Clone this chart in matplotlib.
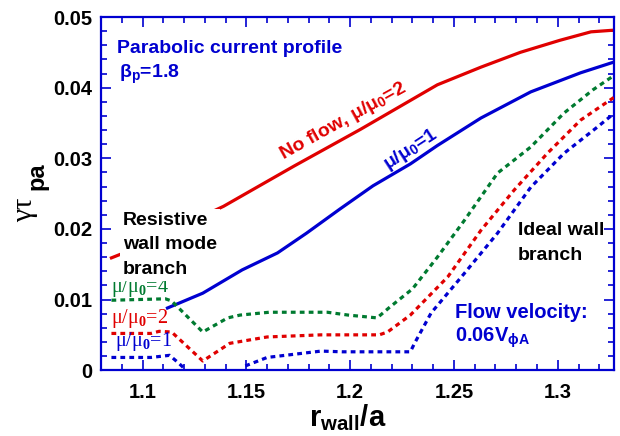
import numpy as np
import matplotlib
matplotlib.use("Agg")
import matplotlib.pyplot as plt
from matplotlib.ticker import MultipleLocator, FuncFormatter

# values
# solid curves: no flow
x_noflow_mu2 = [1.085, 1.091, 1.139, 1.173, 1.205, 1.242, 1.263, 1.282, 1.301, 1.316, 1.330]
y_noflow_mu2 = [0.0159, 0.0166, 0.0232, 0.0289, 0.0341, 0.0404, 0.0429, 0.0450, 0.0467, 0.0479, 0.0482]

x_noflow_mu1 = [1.112, 1.129, 1.148, 1.165, 1.179, 1.195, 1.211, 1.229, 1.242, 1.263, 1.287, 1.311, 1.330]
y_noflow_mu1 = [0.0088, 0.0109, 0.0142, 0.0166, 0.0194, 0.0228, 0.0261, 0.0292, 0.0318, 0.0357, 0.0394, 0.0421, 0.0439]

# dotted curves: flow velocity 0.06 V_phiA
x_flow_mu4 = [1.085, 1.111, 1.114, 1.129, 1.141, 1.147, 1.161, 1.189, 1.199, 1.213, 1.219, 1.230,
              1.242, 1.255, 1.271, 1.287, 1.303, 1.317, 1.329]
y_flow_mu4 = [0.0099, 0.0101, 0.0098, 0.0054, 0.0074, 0.0078, 0.0082, 0.0082, 0.0078, 0.0074, 0.0089, 0.0115,
              0.0160, 0.0212, 0.0279, 0.0316, 0.0364, 0.0397, 0.0421]

x_flow_mu2 = [1.085, 1.104, 1.108, 1.114, 1.129, 1.142, 1.160, 1.186, 1.214, 1.218, 1.229,
              1.247, 1.263, 1.279, 1.295, 1.311, 1.329]
y_flow_mu2 = [0.0052, 0.0052, 0.0055, 0.0054, 0.0013, 0.0038, 0.0047, 0.0050, 0.0050, 0.0054, 0.0078,
              0.0132, 0.0198, 0.0255, 0.0307, 0.0354, 0.0390]

x_flow_mu1 = [1.085, 1.104, 1.113, 1.117, 1.121, np.nan, 1.1495, 1.160, 1.186, 1.196, 1.229, 1.231,
              1.239, 1.255, 1.271, 1.287, 1.303, 1.319, 1.329]
y_flow_mu1 = [0.0018, 0.0018, 0.0021, 0.0011, 0.0, np.nan, 0.0006, 0.0018, 0.0027, 0.0026, 0.0026, 0.0038,
              0.0081, 0.0137, 0.0194, 0.0259, 0.0307, 0.0344, 0.0368]

red = '#e00000'
blue = '#0000d0'
green = '#007a30'

plt.rcParams['font.family'] = ['Liberation Sans', 'DejaVu Sans']
plt.rcParams['font.weight'] = 'bold'
plt.rcParams['mathtext.fontset'] = 'custom'
plt.rcParams['mathtext.rm'] = 'Liberation Serif'
plt.rcParams['mathtext.it'] = 'Liberation Serif:italic'
plt.rcParams['mathtext.bf'] = 'Liberation Sans:bold'
plt.rcParams['mathtext.sf'] = 'Liberation Sans'

fig = plt.figure(figsize=(6.2, 4.36), dpi=100)
ax = fig.add_axes([0.163, 0.151, 0.827, 0.810])

dots = (0, (1.5, 1.3))
ax.plot(x_noflow_mu2, y_noflow_mu2, color=red, lw=2.3, zorder=2)
ax.plot(x_noflow_mu1, y_noflow_mu1, color=blue, lw=2.3, zorder=2)
ax.plot(x_flow_mu4, y_flow_mu4, color=green, lw=2.3, ls=dots, dash_capstyle='butt', zorder=3)
ax.plot(x_flow_mu2, y_flow_mu2, color=red, lw=2.3, ls=dots, dash_capstyle='butt', zorder=3)
ax.plot(x_flow_mu1, y_flow_mu1, color=blue, lw=2.3, ls=dots, dash_capstyle='butt', zorder=3)

ax.set_xlim(1.08, 1.327)
ax.set_ylim(0, 0.05)
ax.xaxis.set_major_locator(MultipleLocator(0.05))
ax.xaxis.set_minor_locator(MultipleLocator(0.01))
ax.yaxis.set_major_locator(MultipleLocator(0.01))
ax.yaxis.set_minor_locator(MultipleLocator(0.002))
fmt = FuncFormatter(lambda v, p: '%g' % round(v, 4))
ax.xaxis.set_major_formatter(fmt)
ax.yaxis.set_major_formatter(fmt)

ax.tick_params(which='both', direction='in', top=True, right=True, color=blue, width=1.2,
               labelsize=14.5, labelcolor='black')
ax.tick_params(which='major', length=7)
ax.tick_params(which='minor', length=4)
ax.tick_params(axis='x', pad=9)
ax.tick_params(axis='y', pad=6)
for s in ax.spines.values():
    s.set_color(blue)
    s.set_linewidth(1.6)

# axis labels
fig.text(25 / 620, 1 - 210 / 436, 'γτ', family='Liberation Serif', weight='normal',
         fontsize=21, rotation=90, ha='center', va='center')
fig.text(37 / 620, 1 - 176 / 436, 'pa', fontsize=17, rotation=90, ha='center', va='center')
fig.text(348 / 620, 1 - 418 / 436, r'$\mathbf{r_{wall}/a}$', fontsize=21, ha='center', va='center')

# annotations
ax.text(0.031, 0.898, 'Parabolic current profile', color=blue, fontsize=14, transform=ax.transAxes,
        va='baseline')
ax.text(0.035, 0.827, r'$\mathbf{\beta_p}$=1.8', color=blue, fontsize=14, transform=ax.transAxes,
        va='baseline')
ax.text(0.043, 0.449, 'Resistive\nwall mode\nbranch', color='black', fontsize=14, linespacing=1.6,
        transform=ax.transAxes, va='top', zorder=5,
        bbox=dict(boxstyle='square,pad=0.15', fc='white', ec='none'))
ax.text(0.813, 0.419, 'Ideal wall\nbranch', color='black', fontsize=14, linespacing=1.6,
        transform=ax.transAxes, va='top')
ax.text(0.690, 0.147, 'Flow velocity:', color=blue, fontsize=14.5, transform=ax.transAxes, va='baseline')
ax.text(0.690, 0.079, r'0.06V$_\mathbf{\phi A}$', color=blue, fontsize=14.5, transform=ax.transAxes,
        va='baseline')

ax.text(0.020, 0.201, r'μ/μ$_0$=4', family='Liberation Serif', weight='normal', color=green,
        fontsize=14.5, transform=ax.transAxes, va='bottom')
ax.text(0.020, 0.113, r'μ/μ$_0$=2', family='Liberation Serif', weight='normal', color=red,
        fontsize=14.5, transform=ax.transAxes, va='bottom')
ax.text(0.027, 0.048, r'μ/μ$_0$=1', family='Liberation Serif', weight='normal', color=blue,
        fontsize=14.5, transform=ax.transAxes, va='bottom')

ax.text(0.472, 0.705, r'No flow, μ/μ$_\mathbf{0}$=2', color=red, fontsize=14, rotation=29,
        rotation_mode='anchor', ha='center', va='center', transform=ax.transAxes)
ax.text(0.604, 0.625, r'μ/μ$_\mathbf{0}$=1', color=blue, fontsize=14, rotation=33,
        rotation_mode='anchor', ha='center', va='center', transform=ax.transAxes)

fig.savefig('out.png', dpi=100)
